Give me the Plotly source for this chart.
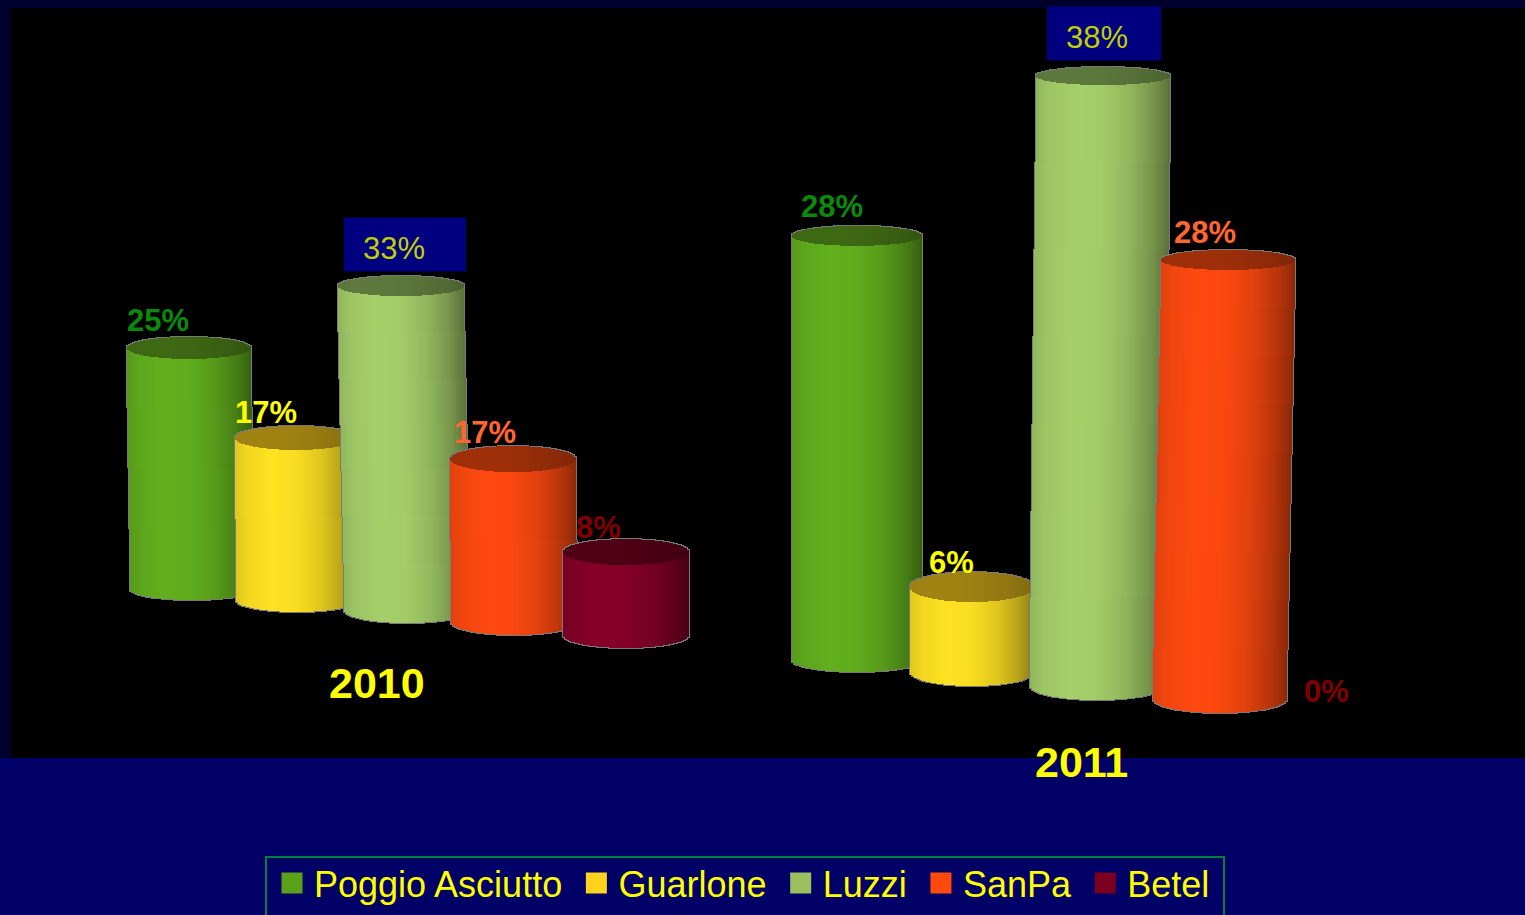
import numpy as np
import plotly.graph_objects as go

# ---------- data ----------
SERIES = ["Poggio Asciutto", "Guarlone", "Luzzi", "SanPa", "Betel"]
YEARS = ["2010", "2011"]
VALUES_2010 = [25, 16.7, 33.3, 16.7, 8.3]
VALUES_2011 = [28, 6, 38, 28, 0]

# ---------- styling / perspective layout (not data) ----------
W, H = 1525, 915
BODY = ["#62b01e", "#ffe222", "#a6d06a", "#ff4a10", "#86002a"]
CAP = ["#3f6a14", "#a28414", "#5e7a3e", "#a0300a", "#500016"]
SWATCH = ["#5aa018", "#ffd21e", "#9cc060", "#ff4a0e", "#7b0020"]
LABEL = ["#0a8a0a", "#ffff00", "#c0d000", "#ff6633", "#800000"]
BOLD = [True, True, False, True, True]

GROUPS = [
    dict(year="2010", values=VALUES_2010, axis="y", scale=9.7, origin=700,
         xc=[189, 296, 401, 513, 626], a=[62, 61, 63, 63, 63],
         base=[589, 600, 610, 622, 635], adj=[.994, 1, 1.003, 1.006, 1.03],
         btop=[11, 12, 10, 13, 13], bbot=[11, 12, 13, 13, 13],
         skew=[-3, -1, -6, -1, 0],
         ldx=[-31, -30, -7, -28, -28], ldy=[-27, -26, -38, -27, -25],
         box={2: (-50, 72)}, yx=377, ypx=683),
    dict(year="2011", values=VALUES_2011, axis="y2", scale=15.6, origin=760,
         xc=[857, 972, 1103, 1228, 1350], a=[65, 62, 67, 67, 60],
         base=[660, 672, 686, 699, 716], adj=[.971, .908, 1.029, 1.005, 1],
         btop=[10, 15, 9, 10, 10], bbot=[12, 14, 14, 14, 14],
         skew=[0, 0, 6, 8, 0],
         ldx=[-25, -21, -6, -23, -24], ldy=[-29, -25, -39, -28, -25],
         box={2: (-50, 64)}, yx=1081, ypx=762),
]


def rgb(hexc):
    return np.array([int(hexc[i:i + 2], 16) for i in (1, 3, 5)], float)


def shade(hexc, t):
    f = np.interp(t, [-1, -.8, -.4, 0, .4, .75, 1], [.88, .95, 1, .98, .88, .72, .55])
    c = rgb(hexc) * f
    return "rgb(%d,%d,%d)" % tuple(c)


def cylinder_traces(g, i):
    v, s = g["values"][i], g["scale"]
    if v == 0:
        return []
    xc, a, bt, bb, skew = g["xc"][i], g["a"][i], g["btop"][i], g["bbot"][i], g["skew"][i]
    lift = (g["origin"] - g["base"][i]) / s
    hgt = v * g["adj"][i]
    kw = dict(yaxis=g["axis"], xaxis="x", showlegend=False, hoverinfo="skip",
              marker_line_width=0)
    K = abs(skew) + 1

    def body(half, extra, color_fn):
        xs, bases, ys, cols = [], [], [], []
        dxs = np.arange(-half + 1, half, 2)
        for j in range(K - 1, -1, -1):
            shift = round(skew * ((j + .5) / K - 1))
            for dx in dxs:
                r = np.clip(dx / half, -1, 1)
                hb = bb * np.sqrt(1 - r * r)
                lo = lift - (hb + extra) / s if j == 0 else lift + hgt * j / K
                hi = lift + hgt if j == K - 1 else lift + hgt * (j + 1) / K + 1 / s
                xs.append(xc + dx + shift)
                bases.append(lo)
                ys.append(hi - lo)
                cols.append(color_fn(r))
        return go.Bar(x=xs, y=ys, base=bases, width=2, marker_color=cols, **kw)

    def cap(half, extra, color_fn):
        xs, bases, ys, cols = [], [], [], []
        for dx in np.arange(-half + 1, half, 2):
            r = np.clip(dx / half, -1, 1)
            ht = bt * np.sqrt(1 - r * r) + extra
            xs.append(xc + dx)
            bases.append(lift + hgt - ht / s)
            ys.append(2 * ht / s)
            cols.append(color_fn(r))
        return go.Bar(x=xs, y=ys, base=bases, width=2, marker_color=cols, **kw)

    halo = lambda r: "#7a7a7a"
    return [
        body(a + 1, 1, halo),
        cap(a + 1, 1, halo),
        body(a, 0, lambda r: shade(BODY[i], r)),
        cap(a, 0, lambda r: shade(CAP[i], r * .6)),
    ]


fig = go.Figure()
annotations, shapes = [], []

# backdrop bands
shapes.append(dict(type="rect", xref="x", yref="paper", x0=0, x1=W, y0=1 - 758 / H, y1=1,
                   fillcolor="#00002c", line_width=0, layer="below"))
shapes.append(dict(type="rect", xref="x", yref="paper", x0=11, x1=W, y0=1 - 758 / H, y1=1 - 8 / H,
                   fillcolor="#000000", line_width=0, layer="below"))

for g in GROUPS:
    s = g["scale"]
    for i, name in enumerate(SERIES):
        for tr in cylinder_traces(g, i):
            fig.add_trace(tr)
        v = g["values"][i]
        lift = (g["origin"] - g["base"][i]) / s
        top = lift + v * g["adj"][i]
        lx = g["xc"][i] + g["ldx"][i]
        ly = top - g["ldy"][i] / s
        annotations.append(dict(
            x=lx, y=ly, xref="x", yref=g["axis"], text=f"{v:.0f}%", showarrow=False,
            xanchor="center", yanchor="middle",
            font=dict(family="Liberation Sans", size=31, color=LABEL[i], weight="bold" if BOLD[i] else "normal")))
        if i in g["box"]:
            d0, d1 = g["box"][i]
            shapes.append(dict(type="rect", xref="x", yref=g["axis"], x0=lx + d0, x1=lx + d1,
                               y0=ly - 23.5 / s, y1=ly + 30.5 / s, fillcolor="#000080",
                               line_width=0, layer="below"))
    annotations.append(dict(
        x=g["yx"], y=1 - g["ypx"] / H, xref="x", yref="paper", text=g["year"], showarrow=False,
        xanchor="center", yanchor="middle",
        font=dict(family="Liberation Sans", size=43, color="#ffff00", weight="bold")))

# legend entries
for name, c in zip(SERIES, SWATCH):
    fig.add_trace(go.Scatter(x=[None], y=[None], mode="markers", name=name + "\u2009", hoverinfo="skip",
                             marker=dict(symbol="square", size=16, color=c, line=dict(color=c, width=5))))

# three-sided legend frame, running off the bottom of the page
shapes.append(dict(type="path", xref="x", yref="paper",
                   path=f"M 266 {1 - 920 / H} L 266 {1 - 857 / H} L 1224 {1 - 857 / H} L 1224 {1 - 920 / H}",
                   line=dict(color="#008040", width=2), layer="below"))


def yrange(g):
    return [(g["origin"] - H) / g["scale"], g["origin"] / g["scale"]]


fig.update_layout(
    width=W, height=H, margin=dict(l=0, r=0, t=0, b=0), autosize=False,
    paper_bgcolor="#000066", plot_bgcolor="rgba(0,0,0,0)",
    barmode="overlay", bargap=0,
    xaxis=dict(range=[0, W], visible=False, fixedrange=True, domain=[0, 1]),
    yaxis=dict(range=yrange(GROUPS[0]), visible=False, fixedrange=True),
    yaxis2=dict(range=yrange(GROUPS[1]), visible=False, fixedrange=True, overlaying="y"),
    annotations=annotations, shapes=shapes,
    legend=dict(orientation="h", x=270 / W, xanchor="left", y=1 - 853 / H, yanchor="top",
                itemwidth=34,
                font=dict(family="Liberation Sans", size=36, color="#ffff00"),
                bgcolor="rgba(0,0,0,0)", borderwidth=0, traceorder="normal"),
)

fig.write_html("out.html", config={"displayModeBar": False}, post_script=(
    "document.body.style.margin='0';document.body.style.background='#000066';"
    "document.documentElement.style.overflow='hidden';"))
